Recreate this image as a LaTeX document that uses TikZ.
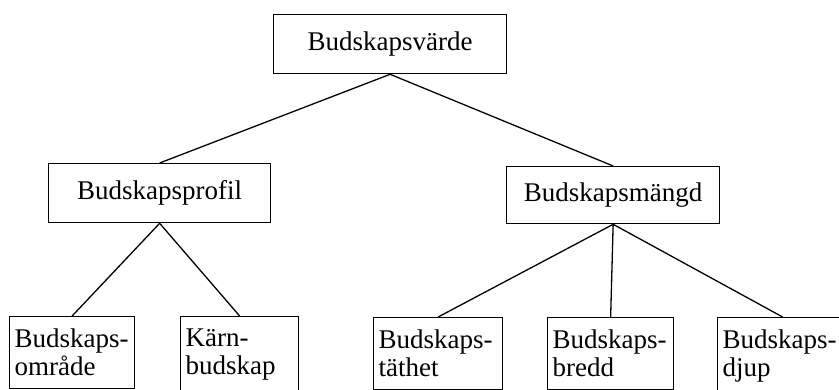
\documentclass[tikz,border=0pt]{standalone}
\usepackage{fontspec}
\setmainfont{Liberation Serif}
\begin{document}
\begin{tikzpicture}[x=1pt,y=-1pt,
  every node/.style={font=\fontsize{27}{28}\selectfont},
  box/.style={draw,line width=1.3pt,anchor=north west,inner sep=0pt,align=center},
  leaf/.style={draw,line width=1.3pt,anchor=north west,inner xsep=5pt,inner ysep=12.5pt,align=left},
  link/.style={line width=1.3pt}]
\useasboundingbox (0,0) rectangle (839,390);
\fill[white] (0,0) rectangle (839,390);
\clip (0,0) rectangle (839,390);
\node[box,minimum width=233pt,minimum height=59pt] (top) at (273,14) {Budskapsvärde};
\node[box,minimum width=222pt,minimum height=59pt] (prof) at (48,163) {Budskapsprofil};
\node[box,minimum width=213pt,minimum height=57pt] (mangd) at (506,166) {Budskapsmängd};
\node[leaf,text width=115pt] (omr) at (9,316) {\mbox{Budskaps-}\\område};
\node[leaf,text width=108pt] (karn) at (180,316) {\mbox{Kärn-}\\budskap};
\node[leaf,text width=119pt] (tat) at (373,317) {\mbox{Budskaps-}\\täthet};
\node[leaf,text width=116pt] (bredd) at (547,317) {\mbox{Budskaps-}\\bredd};
\node[leaf,text width=120pt] (djup) at (717,317) {\mbox{Budskaps-}\\djup};
\draw[link] (top.south) -- (prof.north);
\draw[link] (top.south) -- (mangd.north);
\draw[link] (prof.south) -- (omr.north);
\draw[link] (prof.south) -- (karn.north);
\draw[link] (mangd.south) -- (tat.north);
\draw[link] (mangd.south) -- (bredd.north);
\draw[link] (mangd.south) -- (djup.north);
\end{tikzpicture}
\end{document}
